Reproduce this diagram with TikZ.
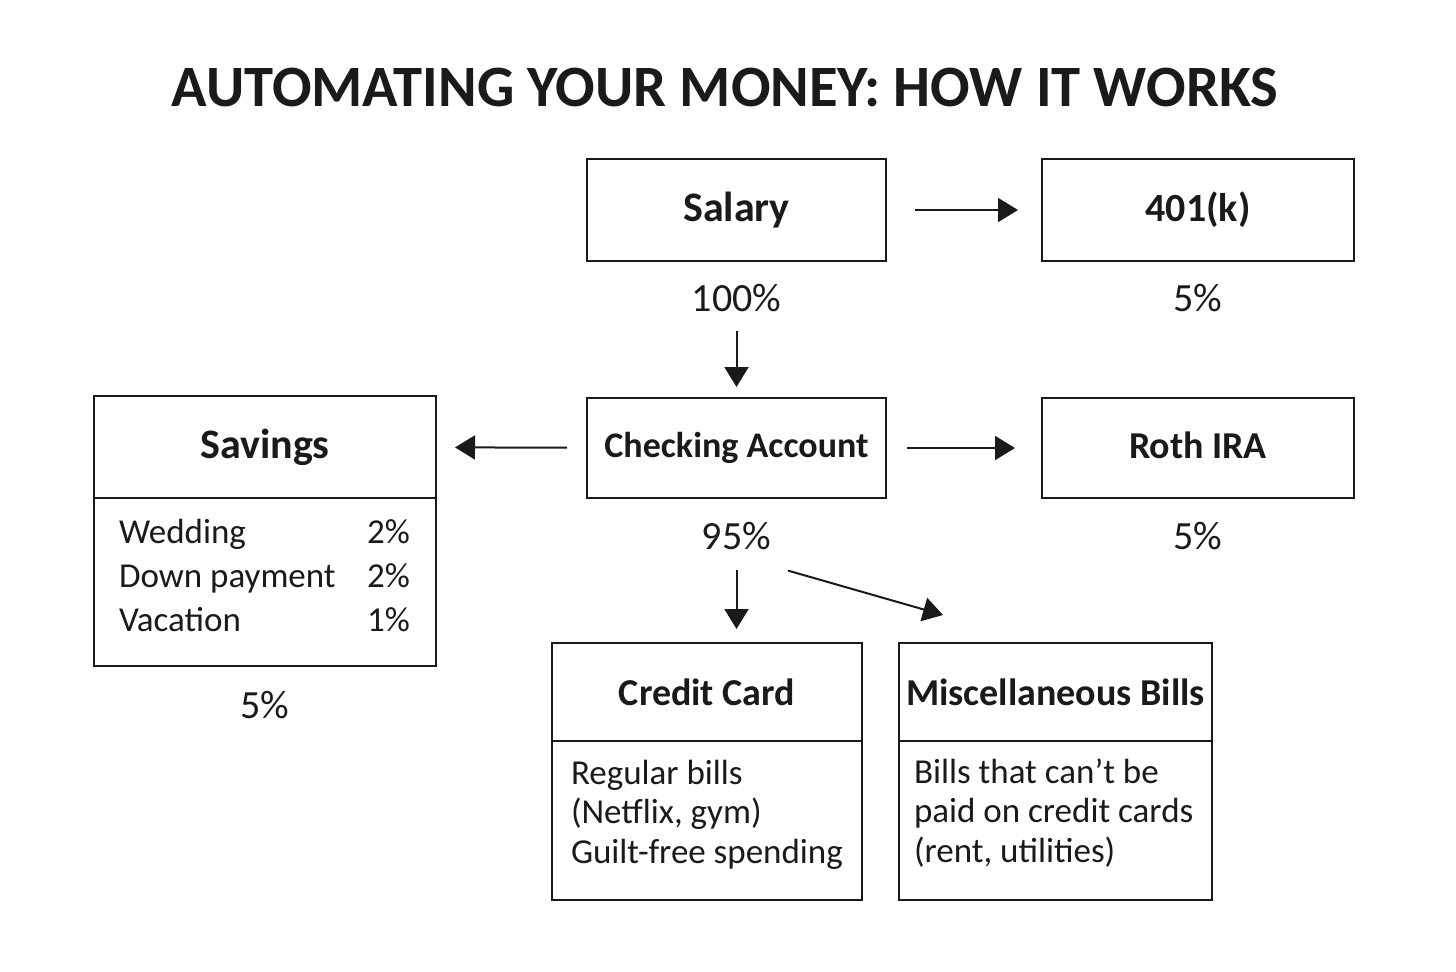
\documentclass[tikz,border=0pt]{standalone}
\usepackage{fontspec}
\setmainfont{Carlito}
\usetikzlibrary{arrows.meta,positioning}
\definecolor{mnyink}{HTML}{1A1A1A}

\begin{document}
\begin{tikzpicture}[
  x=0.5pt,y=-0.5pt,
  box/.style={draw=mnyink,line width=1.25pt,inner sep=0pt,outer sep=0pt,
              text=mnyink,font=\fontsize{19}{22}\selectfont\bfseries},
  big/.style={font=\fontsize{21}{24}\selectfont\bfseries},
  txt/.style={inner sep=0pt,outer sep=0pt,text=mnyink},
  ttl/.style={txt,font=\fontsize{29.3}{34}\selectfont\bfseries},
  pct/.style={txt,font=\fontsize{20}{24}\selectfont},
  body/.style={txt,align=left,font=\fontsize{17.5}{19.75}\selectfont},
  arr/.style={-{Triangle[length=10pt,width=12pt]},line width=1pt,draw=mnyink}
]
\useasboundingbox (0,0) rectangle (1456,971);

\node[ttl,anchor=base] (title) at (725,106) {AUTOMATING YOUR MONEY: HOW IT WORKS};

\node[box,big,minimum width=149.5pt,minimum height=51pt] (salary) at (736.5,210) {Salary};
\node[box,font=\fontsize{20}{24}\selectfont\bfseries,minimum width=156pt,minimum height=51pt] (k401) at (1198,210) {401(k)};
\node[box,font=\fontsize{18}{22}\selectfont\bfseries,minimum width=149.5pt,minimum height=50pt] (checking) at (736.5,448) {Checking Account};
\node[box,minimum width=156pt,minimum height=50pt] (roth) at (1198,448) {\raisebox{2.5pt}{Roth IRA}};

\node[box,big,minimum width=171pt,minimum height=51pt] (savhead) at (265,447) {Savings};
\node[box,minimum width=171pt,minimum height=84pt,below=0pt of savhead] (savbody) {};
\node[box,minimum width=155pt,minimum height=49pt] (credhead) at (707,692) {Credit Card};
\node[box,minimum width=155pt,minimum height=79.5pt,below=0pt of credhead] (credbody) {};
\node[box,minimum width=156.5pt,minimum height=49pt] (mischead) at (1055.5,692) {Miscellaneous Bills};
\node[box,minimum width=156.5pt,minimum height=79.5pt,below=0pt of mischead] (miscbody) {};

\node[body,anchor=base west] (savrows) at ([shift={(25,45)}]savbody.north west)
  {\fontsize{17.5}{22}\selectfont
   \begin{tabular*}{145.5pt}[t]{@{}l@{\extracolsep{\fill}}r@{}}
   Wedding & 2\% \\ Down payment & 2\% \\ Vacation & 1\%
   \end{tabular*}};
\node[body,anchor=base west] (credtext) at ([shift={(19,122)}]credbody.north west)
  {Regular bills\\(Netflix, gym)\\Guilt-free spending};
\node[body,anchor=base west] (misctext) at ([shift={(15,121)}]miscbody.north west)
  {Bills that can’t be\\paid on credit cards\\(rent, utilities)};

\node[pct,below=11.5pt of salary] (pct100) {100\%};
\node[pct,below=11.5pt of k401] (pct401) {5\%};
\node[pct,below=12pt of checking] (pct95) {95\%};
\node[pct,below=12pt of roth] (pctroth) {5\%};
\node[pct,below=12.5pt of savbody] (pctsav) {5\%};

\draw[arr,shorten <=14.5pt,shorten >=12pt] (salary) -- (k401);
\draw[arr,shorten <=9.5pt,shorten >=5.5pt] (pct100.south) -- (pct100.south |- checking.north);
\draw[arr,shorten <=10.5pt,shorten >=13.5pt] (checking) -- (roth);
\draw[arr,shorten <=10pt,shorten >=9.5pt] (checking) -- (savhead);
\draw[arr,shorten <=10pt,shorten >=7pt] (pct95.south) -- (pct95.south |- credhead.north);
\draw[arr] ([shift={(17,21)}]pct95.south east) -- ([shift={(44,-28)}]mischead.north west);
\end{tikzpicture}
\end{document}
